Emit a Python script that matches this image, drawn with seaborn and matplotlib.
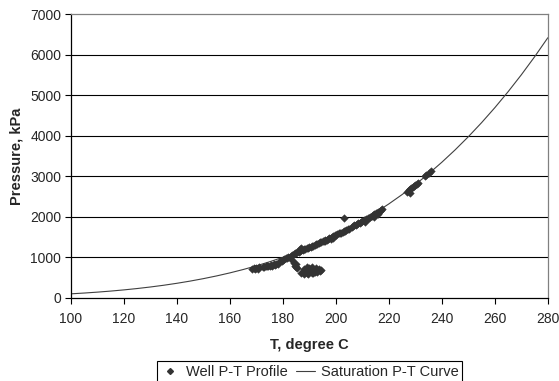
import matplotlib
matplotlib.use("Agg")
import matplotlib.pyplot as plt
from matplotlib.lines import Line2D
import seaborn as sns
import pandas as pd

# Saturation curve (steam table values)
sat_T = [100, 105, 110, 115, 120, 125, 130, 135, 140, 145, 150, 155, 160, 165, 170,
         175, 180, 185, 190, 195, 200, 205, 210, 215, 220, 225, 230, 235, 240, 245,
         250, 255, 260, 265, 270, 275, 280]
sat_P = [101.4, 120.9, 143.4, 169.2, 198.7, 232.2, 270.3, 313.0, 361.5, 415.7, 476.2,
         543.5, 618.2, 700.9, 792.2, 892.6, 1002.8, 1123.5, 1255.2, 1398.8, 1554.9,
         1724.3, 1907.7, 2105.9, 2319.6, 2549.7, 2797.1, 3062.5, 3346.9, 3651.2,
         3976.2, 4322.9, 4692.3, 5085.3, 5503.0, 5946.4, 6416.6]

# Well P-T profile points
well_T = [168.5, 169.0, 169.5, 170.0, 170.5, 171.0, 172.5, 173.0, 173.5, 174.0, 174.5, 175.0,
          175.5, 176.0, 176.5, 177.0, 177.5, 178.0,
          179.0, 179.5, 180.0, 180.5, 181.0, 181.5, 182.0,
          183.5, 184.0, 184.5, 185.0, 185.5, 184.8,
          187.0, 187.5, 188.0, 188.5, 189.0, 189.5, 190.0, 190.5, 191.0, 191.5, 192.0, 192.5,
          193.0, 193.5, 194.0, 194.5, 190.0, 189.0, 188.0, 191.0, 192.5, 189.5, 191.5,
          183.0, 183.5, 184.0, 184.5, 185.0, 185.5, 186.0, 186.5, 187.0, 187.5, 188.0, 188.5,
          189.0, 189.5, 190.0, 186.5, 187.0,
          190.5, 191.0, 191.5, 192.0, 192.5, 193.0, 193.5, 194.0, 194.5, 195.0,
          195.5, 196.0, 196.5, 197.0, 197.5, 198.0, 198.5, 199.0, 199.5, 200.0, 200.5, 201.0,
          196.0, 198.0, 199.0,
          203.0,
          201.5, 202.0, 202.5, 203.0, 203.5, 204.0, 204.5, 205.0,
          206.0, 206.5, 207.0, 207.5, 208.0,
          208.5, 209.0, 209.5, 210.0, 210.5, 211.0, 211.5, 212.0, 212.5, 213.0, 211.0,
          213.5, 214.0, 214.5, 215.0, 215.5, 216.0, 216.5, 217.0, 217.5, 214.5, 216.0,
          227.0, 227.5, 228.0, 228.5, 229.0, 229.5, 230.0, 230.5, 231.0, 228.0,
          233.5, 234.0, 235.0, 236.0]
well_P = [715, 730, 705, 740, 725, 760, 775, 760, 790, 780, 800, 785,
          810, 800, 825, 815, 840, 830,
          900, 920, 940, 960, 975, 990, 1000,
          930, 870, 800, 760, 730, 840,
          620, 640, 600, 660, 620, 700, 640, 680, 610, 700, 650, 690,
          630, 720, 660, 700, 750, 770, 720, 760, 740, 600, 620,
          1040, 1060, 1080, 1100, 1110, 1130, 1140, 1160, 1170, 1185, 1200, 1215,
          1230, 1240, 1250, 1210, 1225,
          1265, 1280, 1290, 1310, 1320, 1340, 1350, 1370, 1380, 1395,
          1410, 1430, 1440, 1460, 1480, 1490, 1510, 1520, 1540, 1550, 1570, 1590,
          1400, 1460, 1490,
          1960,
          1600, 1610, 1630, 1650, 1660, 1680, 1700, 1710,
          1750, 1770, 1790, 1800, 1820,
          1840, 1850, 1870, 1890, 1910, 1920, 1940, 1960, 1980, 2000, 1870,
          2020, 2050, 2070, 2090, 2100, 2130, 2150, 2170, 2190, 2000, 2080,
          2620, 2650, 2680, 2700, 2730, 2750, 2780, 2800, 2830, 2600,
          3000, 3020, 3080, 3120]

x_ticks = [100, 120, 140, 160, 180, 200, 220, 240, 260, 280]
y_ticks = [0, 1000, 2000, 3000, 4000, 5000, 6000, 7000]

sns.set_style("white")
plt.rcParams['font.family'] = ['Liberation Sans', 'DejaVu Sans']

fig, ax = plt.subplots(figsize=(5.59, 3.81), dpi=100)
fig.subplots_adjust(left=0.127, right=0.980, top=0.963, bottom=0.218)

for y in y_ticks[1:-1]:
    ax.axhline(y, color='black', lw=0.8, zorder=0)

sat_df = pd.DataFrame({'T': sat_T, 'P': sat_P})
well_df = pd.DataFrame({'T': well_T, 'P': well_P})

sns.lineplot(data=sat_df, x='T', y='P', ax=ax, color='#404040', lw=0.8, zorder=2,
             estimator=None, sort=True)
sns.scatterplot(data=well_df, x='T', y='P', ax=ax, marker='D', s=15, color='#333333',
                edgecolor='#333333', linewidth=0.3, zorder=3)

ax.set_xlim(100, 280)
ax.set_ylim(0, 7000)
ax.set_xticks(x_ticks)
ax.set_yticks(y_ticks)
ax.tick_params(axis='both', direction='out', length=4, width=0.8, color='black',
               labelsize=10, pad=3, bottom=True, left=True)
ax.tick_params(axis='x', pad=6)

for side in ['top', 'right']:
    ax.spines[side].set_color('#808080')
    ax.spines[side].set_linewidth(0.9)
for side in ['left', 'bottom']:
    ax.spines[side].set_color('black')
    ax.spines[side].set_linewidth(0.9)

ax.set_xlabel('T, degree C', fontsize=10.5, fontweight='bold', labelpad=9)
ax.set_ylabel('Pressure, kPa', fontsize=10.5, fontweight='bold', labelpad=5)

handles = [Line2D([], [], marker='D', ls='none', color='#333333', markersize=3),
           Line2D([], [], color='#404040', lw=0.8)]
leg = fig.legend(handles, ['Well P-T Profile', 'Saturation P-T Curve'], ncol=2,
                 loc='upper center', bbox_to_anchor=(0.554, 0.0525), fontsize=10.5,
                 frameon=True, fancybox=False, edgecolor='black', framealpha=1,
                 handlelength=1.3, handletextpad=0.4, columnspacing=0.6,
                 borderpad=0.25, borderaxespad=0)
leg.get_frame().set_linewidth(0.8)

fig.savefig('out.png', dpi=100)
